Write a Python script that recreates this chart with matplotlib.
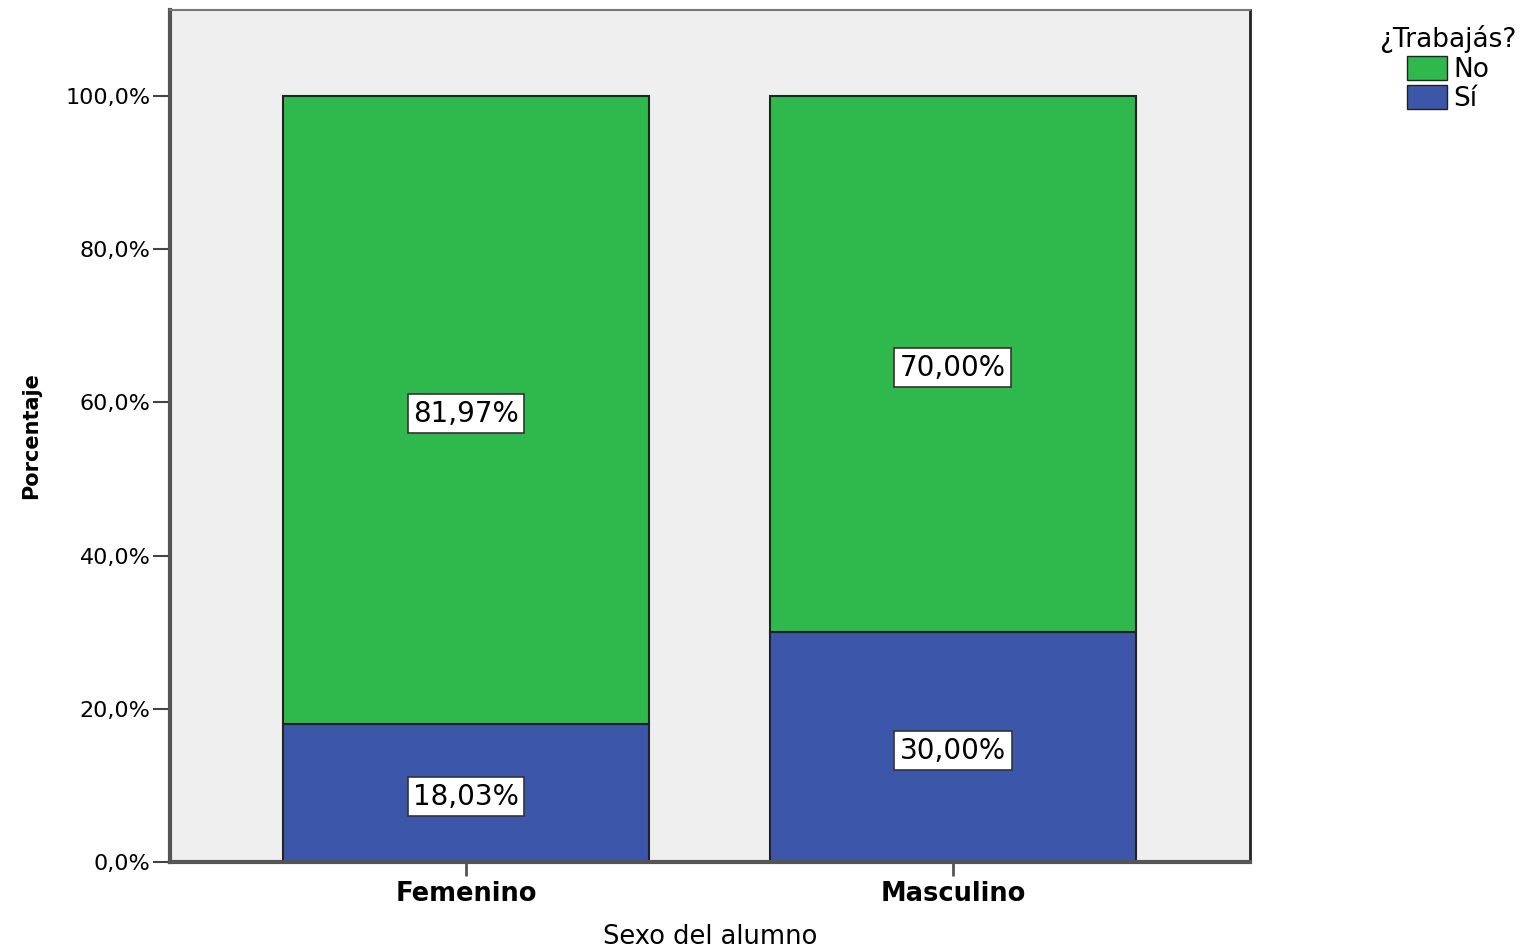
import matplotlib.pyplot as plt
import numpy as np
from matplotlib.patches import Patch
from matplotlib.ticker import FuncFormatter

sexo = ["Femenino", "Masculino"]
pct_si = [18.03, 30.00]
pct_no = [81.97, 70.00]
yticks = [0, 20, 40, 60, 80, 100]

green = "#2fb84b"
blue = "#3c57a9"

fig = plt.figure(figsize=(15.38, 9.51), dpi=100)
ax = fig.add_axes([0.1105, 0.0936, 0.7022, 0.8959])
ax.set_facecolor("#efefef")

x = np.arange(len(sexo))
w = 0.75
ax.bar(x, pct_si, width=w, color=blue, edgecolor="#222222", linewidth=1.5, zorder=2)
ax.bar(x, pct_no, width=w, bottom=pct_si, color=green, edgecolor="#222222", linewidth=1.5, zorder=2)

box = dict(boxstyle="square,pad=0.2", facecolor="white", edgecolor="#333333", linewidth=1.2)
for i in range(len(sexo)):
    for val, base in ((pct_si[i], 0), (pct_no[i], pct_si[i])):
        ax.text(x[i], base + val / 2 - 0.5, f"{val:.2f}%".replace(".", ","), ha="center",
                va="center", fontsize=20, bbox=box, zorder=3)

ax.set_xlim(-0.608, 1.61)
ax.set_ylim(0, 111.2)
ax.set_yticks(yticks)
ax.yaxis.set_major_formatter(FuncFormatter(lambda v, _: f"{v:.1f}%".replace(".", ",")))
ax.set_xticks(x)
ax.set_xticklabels(sexo, fontsize=18.5, fontweight="bold")
ax.tick_params(axis="y", labelsize=16, length=12, width=1.5, color="#444444", pad=2)
ax.tick_params(axis="x", length=10, width=2, color="#555555", pad=4)

for side in ("left", "bottom"):
    ax.spines[side].set_linewidth(3)
    ax.spines[side].set_color("#555555")
ax.spines["right"].set_linewidth(2)
ax.spines["right"].set_color("#222222")
ax.spines["top"].set_linewidth(1.5)
ax.spines["top"].set_color("#777777")

ax.set_xlabel("Sexo del alumno", fontsize=18.5, labelpad=12)
ax.set_ylabel("Porcentaje", fontsize=15, fontweight="bold")
ax.yaxis.set_label_coords(-0.119, 0.5)

handles = [Patch(facecolor=green, edgecolor="#222222", label="No"),
           Patch(facecolor=blue, edgecolor="#222222", label="Sí")]
leg = fig.legend(handles=handles, title="¿Trabajás?", loc="upper center",
                 bbox_to_anchor=(0.9415, 0.99), frameon=False, fontsize=19,
                 title_fontsize=19, handlelength=1.5, handleheight=1.0,
                 handletextpad=0.25, labelspacing=0.1, borderpad=0.1)

fig.savefig("out.png", dpi=100)
